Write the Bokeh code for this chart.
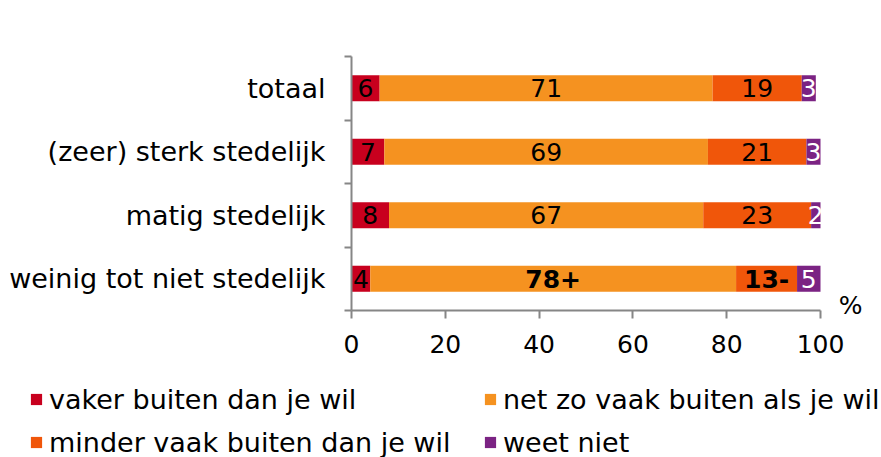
from bokeh.plotting import figure
from bokeh.models import (ColumnDataSource, Range1d, FixedTicker, Legend, LegendItem,
                          LinearAxis, Label)
from bokeh.core.properties import value
from bokeh.embed import file_html
from bokeh.resources import INLINE

# ---- data ----
categories = ["totaal", "(zeer) sterk stedelijk", "matig stedelijk", "weinig tot niet stedelijk"]
vaker = [6, 7, 8, 4]
net_zo = [71, 69, 67, 78]
minder = [19, 21, 23, 13]
weet_niet = [3, 3, 2, 5]
net_zo_sig = ["", "", "", "+"]
minder_sig = ["", "", "", "-"]
series_names = ["vaker buiten dan je wil", "net zo vaak buiten als je wil",
                "minder vaak buiten dan je wil", "weet niet"]
x_ticks = [0, 20, 40, 60, 80, 100]
unit_label = "%"

colors = ["#C8001E", "#F59220", "#F0560A", "#7B2383"]
label_colors = ["black", "black", "black", "white"]
FONT = "DejaVu Sans"
GRAY = "#868686"

n = len(categories)
ypos = [n - 1 - i + 0.5 for i in range(n)]

# pixel geometry of the plotting area inside the full-canvas frame
W, H = 881, 457
X0, X1 = 351, 820      # screen x of value 0 and 100
YT, YB = 56, 310       # screen y of top and bottom of the category bands
xs = 100 / (X1 - X0)
ys = n / (YB - YT)

p = figure(width=W, height=H, output_backend="svg", toolbar_location=None,
           x_range=Range1d(-X0 * xs, 100 + (W - X1) * xs),
           y_range=Range1d(-(H - YB) * ys, n + YT * ys),
           x_axis_location=None, y_axis_location=None, min_border=0)
p.outline_line_color = None
p.grid.visible = False

series = [vaker, net_zo, minder, weet_niet]
sigs = [[""] * n, net_zo_sig, minder_sig, [""] * n]
left = [0] * n
renderers = []
for k, vals in enumerate(series):
    right = [l + v for l, v in zip(left, vals)]
    src = ColumnDataSource(dict(
        y=ypos, left=left, right=right,
        xc=[(l + r) / 2 for l, r in zip(left, right)],
        txt=[f"{v}{s}" for v, s in zip(vals, sigs[k])],
        style=["bold" if s else "normal" for s in sigs[k]],
    ))
    r = p.hbar(y="y", left="left", right="right", height=0.41, source=src,
               fill_color=colors[k], line_color=None)
    renderers.append(r)
    p.text(x="xc", y="y", text="txt", source=src, text_align="center",
           text_baseline="middle", text_font=value(FONT), text_font_size="25px",
           text_font_style="style", text_color=label_colors[k])
    left = right

# x axis fixed at y = 0
xa = LinearAxis(fixed_location=0, bounds=(0, 100),
                ticker=FixedTicker(ticks=x_ticks, minor_ticks=[]))
xa.axis_line_color = GRAY
xa.axis_line_width = 2
xa.major_tick_line_color = GRAY
xa.major_tick_line_width = 2
xa.major_tick_out = 8
xa.major_tick_in = 0
xa.minor_tick_line_color = None
xa.major_label_text_font = FONT
xa.major_label_text_font_size = "25px"
xa.major_label_text_color = "black"
xa.major_label_standoff = 16
p.add_layout(xa, "below")

# y axis fixed at x = 0: labels at band centres, ticks at band boundaries
ya = LinearAxis(fixed_location=0, bounds=(0, n),
                ticker=FixedTicker(ticks=ypos, minor_ticks=list(range(n + 1))))
ya.major_label_overrides = {y: c for y, c in zip(ypos, categories)}
ya.axis_line_color = GRAY
ya.axis_line_width = 2
ya.major_tick_line_color = None
ya.major_tick_out = 0
ya.major_tick_in = 0
ya.minor_tick_line_color = GRAY
ya.minor_tick_line_width = 2
ya.minor_tick_out = 7
ya.minor_tick_in = 0
ya.major_label_text_font = FONT
ya.major_label_text_font_size = "27px"
ya.major_label_text_color = "black"
ya.major_label_standoff = 19
p.add_layout(ya, "left")

p.add_layout(Label(x=106.4, y=0.08, text=unit_label, text_align="center",
                   text_baseline="middle", text_font=FONT, text_font_size="25px",
                   text_color="black"))

def make_legend(idx, x):
    return Legend(items=[LegendItem(label=series_names[i], renderers=[renderers[i]]) for i in idx],
                  location=(x, -1), orientation="vertical",
                  glyph_width=14, glyph_height=14, label_standoff=6,
                  label_text_font=FONT, label_text_font_size="27px", label_height=32,
                  label_text_color="black",
                  spacing=11, padding=0, margin=0, border_line_color=None,
                  background_fill_alpha=0)

p.add_layout(make_legend([0, 2], 29))
p.add_layout(make_legend([1, 3], 483))

open("out.html", "w").write(file_html(p, INLINE))
